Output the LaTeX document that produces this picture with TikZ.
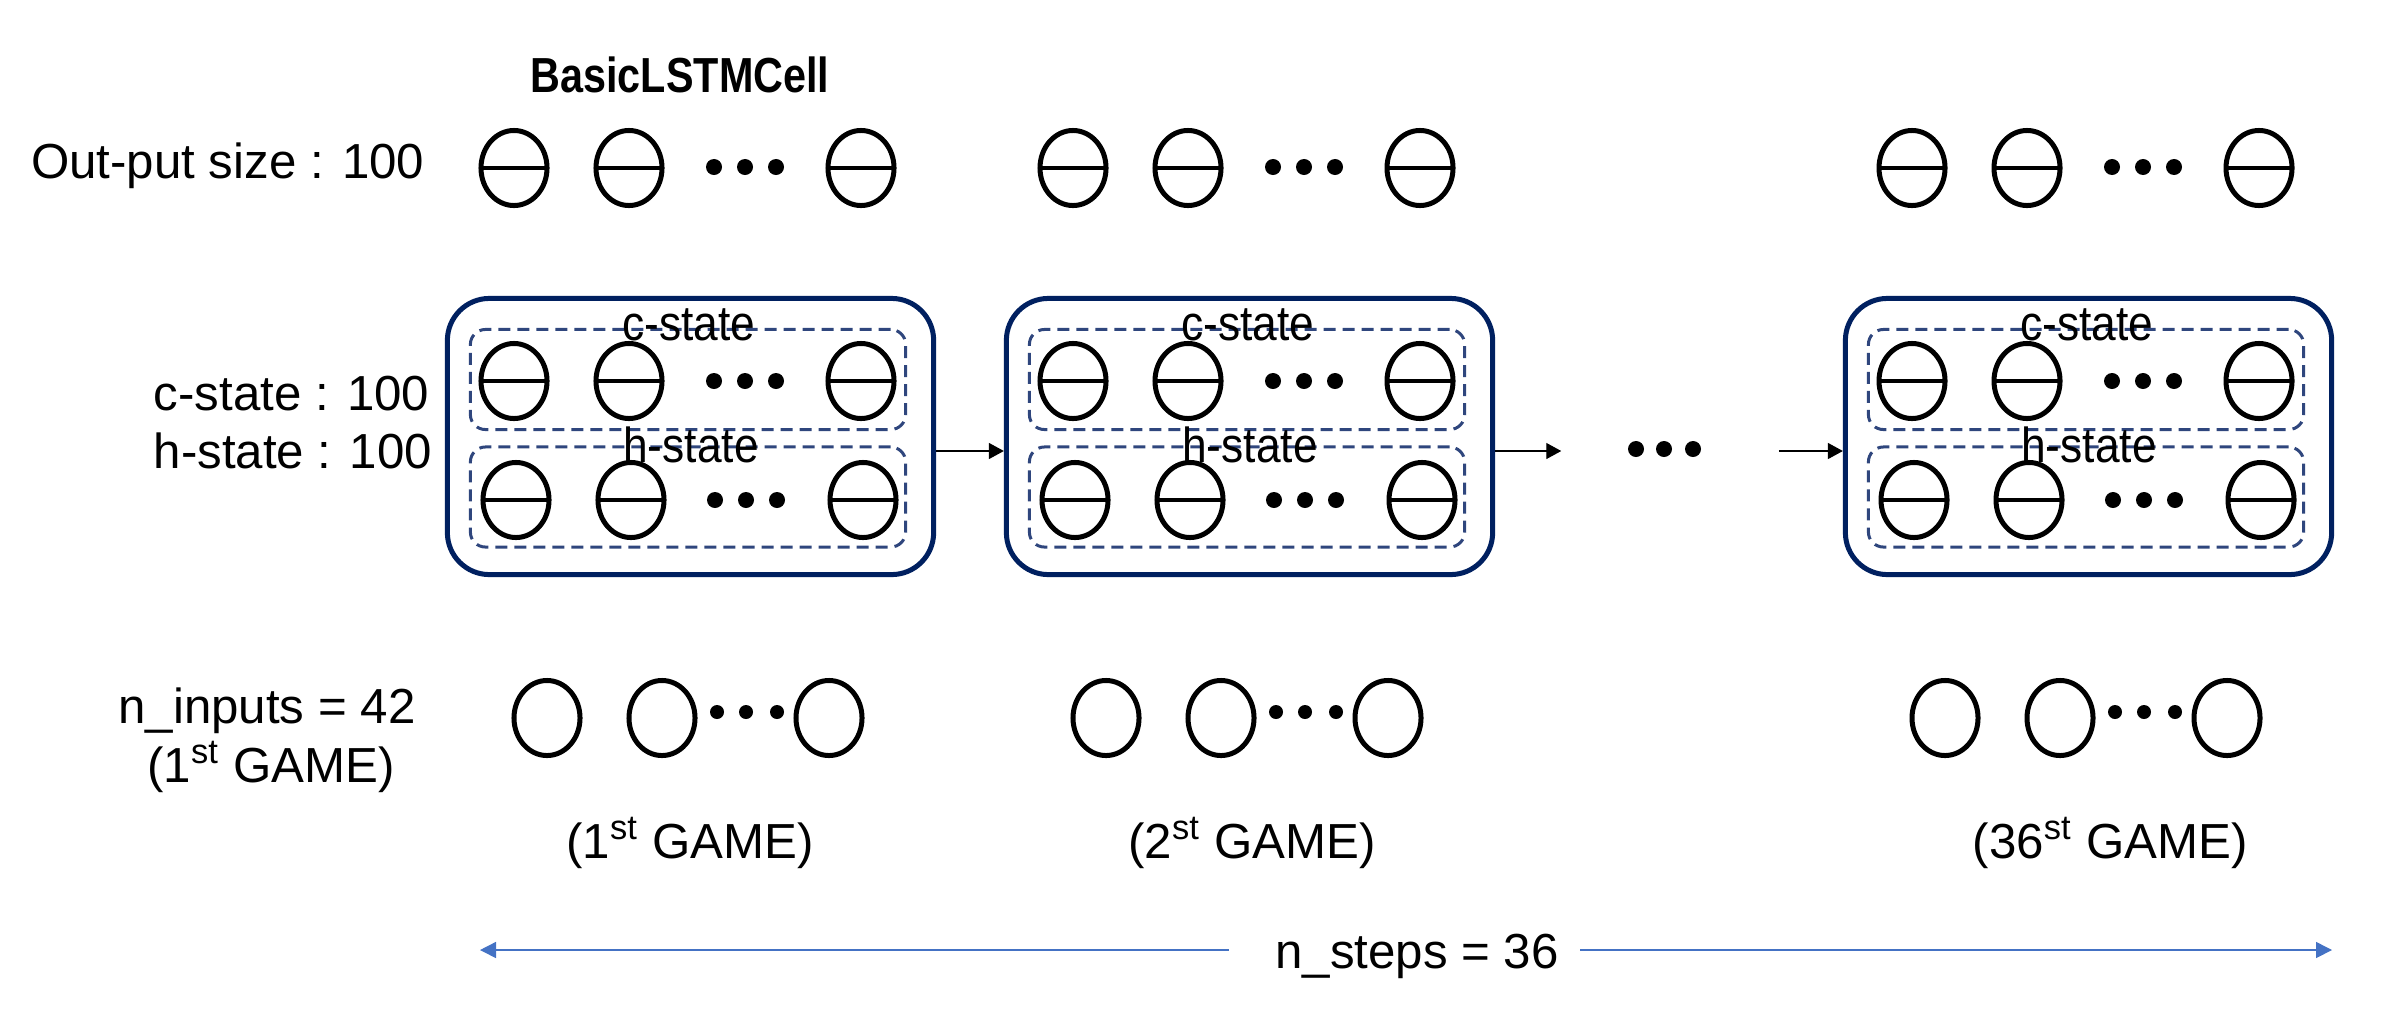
\documentclass[tikz,border=0pt]{standalone}
\usepackage{fontspec}
\setmainfont{Liberation Sans}
\usepackage{graphicx}
\usetikzlibrary{shapes.geometric,arrows.meta,calc}
\definecolor{navy}{RGB}{0,32,96}
\definecolor{dashnavy}{RGB}{47,70,125}
\definecolor{stepblue}{RGB}{68,114,196}
\begin{document}
\begin{tikzpicture}[x=0.01cm,y=-0.01cm,
  txt/.style={font=\fontsize{14pt}{16pt}\selectfont, inner sep=0pt},
  cell/.style={ellipse, draw, line width=0.05cm, minimum width=0.66cm, minimum height=0.75cm, inner sep=0pt},
  unit/.style={cell, path picture={\draw[line width=0.9pt] (path picture bounding box.west) -- (path picture bounding box.east);}},
  dotnode/.style={circle, fill, inner sep=0pt, minimum size=0.16cm},
  smalldot/.style={circle, fill, inner sep=0pt, minimum size=0.14cm},
  bigbox/.style={draw=navy, line width=0.05cm, rounded corners=0.42cm, minimum width=4.86cm, minimum height=2.76cm, inner sep=0pt},
  statebox/.style={draw=dashnavy, line width=0.03cm, dash pattern=on 0.12cm off 0.07cm, rounded corners=0.15cm, minimum width=4.35cm, minimum height=1.0cm, inner sep=0pt},
  arr/.style={-{Triangle[length=0.15cm,width=0.16cm]}, line width=0.013cm},
  barr/.style={stepblue, line width=0.015cm, -{Triangle[length=0.16cm,width=0.16cm]}}
]
\useasboundingbox (0,0) rectangle (2401,1015);

% title
\node[txt, anchor=base] (title) at (680,92) {\scalebox{0.84}[1]{\bfseries BasicLSTMCell}};

% left labels
\node[txt, anchor=base east] (lout) at (425,178) {Out-put size : 100};
\node[txt, anchor=base west] (lc) at (153,410) {c-state : 100};
\node[txt, anchor=base west] (lh) at (153,468) {h-state : 100};
\node[txt, anchor=base] (lin) at (267,723) {n\_inputs = 42};
\node[txt, anchor=base] (lgame) at (271,782) {(1\textsuperscript{st} GAME)};

\foreach \L/\g in {445/1,1004/2,1843/3} {
  % big cell box
  \node[bigbox] (box\g) at (\L+245.5,436.5) {};
  \node[statebox] (cbox\g) at (\L+243,379.5) {};
  \node[statebox] (hbox\g) at (\L+243,497) {};
  % output row
  \node[unit] (out\g-1) at (\L+69,168) {};
  \node[unit] (out\g-2) at (\L+184,168) {};
  \node[dotnode] (outd\g-1) at (\L+269,167) {};
  \node[dotnode] (outd\g-2) at (\L+300,167) {};
  \node[dotnode] (outd\g-3) at (\L+331,167) {};
  \node[unit] (out\g-3) at (\L+416,168) {};
  % c-state row
  \node[unit] (c\g-1) at (\L+69,381) {};
  \node[unit] (c\g-2) at (\L+184,381) {};
  \node[dotnode] (cd\g-1) at (\L+269,381) {};
  \node[dotnode] (cd\g-2) at (\L+300,381) {};
  \node[dotnode] (cd\g-3) at (\L+331,381) {};
  \node[unit] (c\g-3) at (\L+416,381) {};
  % h-state row
  \node[unit] (h\g-1) at (\L+71,500) {};
  \node[unit] (h\g-2) at (\L+186,500) {};
  \node[dotnode] (hd\g-1) at (\L+270,500) {};
  \node[dotnode] (hd\g-2) at (\L+301,500) {};
  \node[dotnode] (hd\g-3) at (\L+332,500) {};
  \node[unit] (h\g-3) at (\L+418,500) {};
  % labels inside
  \node[txt, anchor=base] (cl\g) at (\L+244,340) {\scalebox{0.9}[1]{c-state}};
  \node[txt, anchor=base] (hl\g) at (\L+246,462) {\scalebox{0.9}[1]{h-state}};
  % input row
  \node[cell] (in\g-1) at (\L+102,718) {};
  \node[cell] (in\g-2) at (\L+217,718) {};
  \node[smalldot] (ind\g-1) at (\L+272,712) {};
  \node[smalldot] (ind\g-2) at (\L+301,712) {};
  \node[smalldot] (ind\g-3) at (\L+332,712) {};
  \node[cell] (in\g-3) at (\L+384,718) {};
}

% game labels
\node[txt, anchor=base] (g1) at (690,858) {(1\textsuperscript{st} GAME)};
\node[txt, anchor=base] (g2) at (1252,858) {(2\textsuperscript{st} GAME)};
\node[txt, anchor=base] (g3) at (2110,858) {(36\textsuperscript{st} GAME)};

% recurrence arrows
\coordinate (ay) at (0,451);
\node[minimum width=2.16cm, minimum height=0.2cm, inner sep=0pt] (mid) at (1670,451) {};
\node[dotnode] (md1) at (1636,449) {};
\node[dotnode] (md2) at (1664,449) {};
\node[dotnode] (md3) at (1693,449) {};
\draw[arr] (box1.east |- ay) -- (box2.west |- ay);
\draw[arr] (box2.east |- ay) -- (mid.west);
\draw[arr] (mid.east) -- (box3.west |- ay);

% n_steps
\node[txt, anchor=base] (steps) at (1417,968) {n\_steps = 36};
\coordinate (by) at (0,950);
\coordinate (stepL) at (480,950);
\coordinate (stepR) at (2332,950);
\draw[barr] ($(steps.west |- by)+(-46,0)$) -- (stepL);
\draw[barr] ($(steps.east |- by)+(21,0)$) -- (stepR);
\end{tikzpicture}
\end{document}
